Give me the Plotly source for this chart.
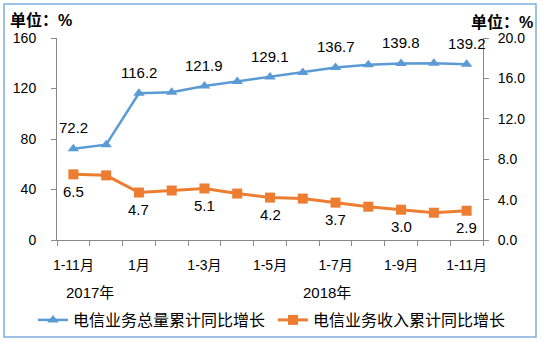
import plotly.graph_objects as go

categories = ["1-11月", "12月", "1月", "1-2月", "1-3月", "1-4月", "1-5月", "1-6月",
              "1-7月", "1-8月", "1-9月", "1-10月", "1-11月"]
tick_labels = ["1-11月", "", "1月", "", "1-3月", "", "1-5月", "", "1-7月", "", "1-9月", "", "1-11月"]
year_labels = ["2017年", "2018年"]
volume = [72.2, 75.5, 116.2, 117.0, 121.9, 125.5, 129.1, 132.7, 136.7, 138.8, 139.8, 140.0, 139.2]
revenue = [6.5, 6.4, 4.7, 4.9, 5.1, 4.6, 4.2, 4.1, 3.7, 3.3, 3.0, 2.7, 2.9]
label_idx = [0, 2, 4, 6, 8, 10, 12]
series_names = ["电信业务总量累计同比增长", "电信业务收入累计同比增长"]

BLUE = "#5B9BD5"
ORANGE = "#ED7D31"
AX = "#898989"
FONT = "Liberation Sans, Noto Sans CJK SC, sans-serif"

# plot area in pixels
PL, PR, PT, PB = 57, 483, 38, 240


def px_x(p):
    return (p - PL) / (PR - PL)


def px_y(p):
    return (PB - p) / (PB - PT)


x = list(range(len(categories)))

fig = go.Figure()
fig.add_trace(go.Scatter(x=x, y=volume, mode="lines+markers", name=series_names[0],
                         line=dict(color=BLUE, width=2.5), legend="legend",
                         marker=dict(symbol="triangle-up", size=10, color=BLUE)))
fig.add_trace(go.Scatter(x=x, y=revenue, mode="lines+markers", name=series_names[1], yaxis="y2",
                         line=dict(color=ORANGE, width=3), legend="legend2",
                         marker=dict(symbol="square", size=10, color=ORANGE)))

ann = []
for i in label_idx:
    ann.append(dict(x=x[i], y=volume[i], xref="x", yref="y", text=f"{volume[i]:.1f}",
                    showarrow=False, yshift=21, font=dict(size=15, color="#000", family=FONT)))
    ann.append(dict(x=x[i], y=revenue[i], xref="x", yref="y2", text=f"{revenue[i]:.1f}",
                    showarrow=False, yshift=-17, font=dict(size=15, color="#000", family=FONT)))

ann.append(dict(x=0.5, y=px_y(292), xref="x", yref="paper", yanchor="middle", text=year_labels[0],
                showarrow=False, font=dict(size=15, color="#000", family=FONT)))
ann.append(dict(x=7.75, y=px_y(292), xref="x", yref="paper", yanchor="middle", text=year_labels[1],
                showarrow=False, font=dict(size=15, color="#000", family=FONT)))
ann.append(dict(x=px_x(8), y=px_y(20), xref="paper", yref="paper", xanchor="left",
                yanchor="middle", text="<b>单位：%</b>", showarrow=False,
                font=dict(size=16, color="#000", family=FONT)))
ann.append(dict(x=px_x(535), y=px_y(22), xref="paper", yref="paper", xanchor="right",
                yanchor="middle", text="<b>单位：%</b>", showarrow=False,
                font=dict(size=16, color="#000", family=FONT)))

leg_common = dict(orientation="h", xref="container", yref="container",
                  y=1 - 320 / 342, xanchor="left", yanchor="middle",
                  font=dict(size=16, color="#000", family=FONT), itemwidth=30,
                  bgcolor="rgba(0,0,0,0)")

fig.update_layout(
    width=545, height=342,
    margin=dict(l=PL, r=545 - PR, t=PT, b=342 - PB),
    paper_bgcolor="white", plot_bgcolor="white",
    font=dict(family=FONT, color="#000"),
    showlegend=True,
    legend=dict(x=33 / 545, **leg_common),
    legend2=dict(x=273 / 545, **leg_common),
    xaxis=dict(range=[-0.5, 12.5], tickmode="array", tickvals=x, ticktext=tick_labels,
               ticks="", showgrid=False, zeroline=False, showline=True, linecolor=AX,
               linewidth=1, tickfont=dict(size=14, color="#000"), ticklabelstandoff=12,
               minor=dict(tickmode="array", tickvals=[i - 0.5 for i in range(len(categories) + 1)],
                          ticks="outside", ticklen=5, tickcolor=AX, showgrid=False)),
    yaxis=dict(range=[0, 160], dtick=40, tick0=0, showgrid=False, zeroline=False,
               showline=True, linecolor=AX, ticks="outside", ticklen=5, tickcolor=AX,
               tickfont=dict(size=14, color="#000"), ticklabelstandoff=12),
    yaxis2=dict(range=[0, 20], dtick=4, tick0=0, overlaying="y", side="right",
                showgrid=False, zeroline=False, showline=True, linecolor=AX,
                ticks="outside", ticklen=5, tickcolor=AX, tickformat=".1f",
                tickfont=dict(size=14, color="#000"), ticklabelstandoff=6),
    annotations=ann,
    shapes=[dict(type="rect", xref="paper", yref="paper",
                 x0=px_x(4), x1=px_x(536), y0=px_y(337), y1=px_y(4),
                 line=dict(color="#7DAEDC", width=1.5), fillcolor="rgba(0,0,0,0)", layer="below")],
)

fig.write_html("out.html")
